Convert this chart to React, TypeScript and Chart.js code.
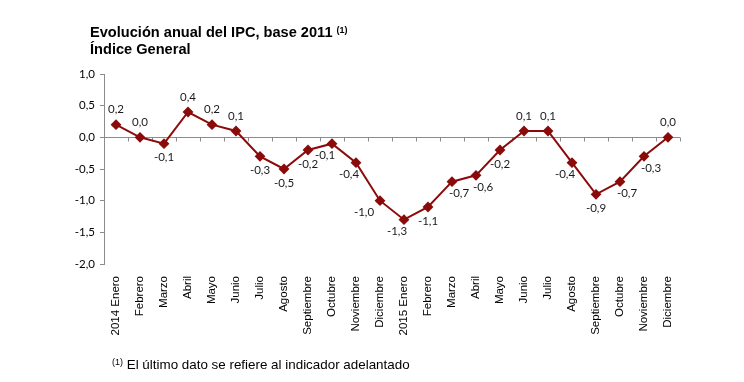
import React, { useEffect, useRef } from "react";
import { Chart, registerables } from "chart.js";

Chart.register(...registerables);

const categories = [
  "2014 Enero", "Febrero", "Marzo", "Abril", "Mayo", "Junio", "Julio", "Agosto",
  "Septiembre", "Octubre", "Noviembre", "Diciembre",
  "2015 Enero", "Febrero", "Marzo", "Abril", "Mayo", "Junio", "Julio", "Agosto",
  "Septiembre", "Octubre", "Noviembre", "Diciembre",
];

const ipcValues = [
  0.2, 0.0, -0.1, 0.4, 0.2, 0.1, -0.3, -0.5, -0.2, -0.1, -0.4, -1.0,
  -1.3, -1.1, -0.7, -0.6, -0.2, 0.1, 0.1, -0.4, -0.9, -0.7, -0.3, 0.0,
];

const labelPlacement = [
  "above", "above", "below", "above", "above", "above", "below", "below",
  "below", "belowLeft", "belowLeft", "left",
  "belowLeft", "below", "belowRight", "belowRight", "below", "above", "above", "belowLeft",
  "below", "belowRight", "belowRight", "above",
];

const yMin = -2;
const yMax = 1;
const yStep = 0.5;

const titleLine1 = "Evolución anual del IPC, base 2011";
const titleLine2 = "Índice General";
const footnote = "El último dato se refiere al indicador adelantado";

const fmt = (v: number) => v.toFixed(1).replace(".", ",");

const AXIS_COLOR = "#8c8c8c";
const LINE_COLOR = "#8b0a0a";

const placementOffsets: Record<string, [number, number]> = {
  above: [0, -15],
  below: [0, 14],
  belowLeft: [-7, 12],
  belowRight: [7, 12],
  left: [-16, 12],
};

const zeroAxisPlugin = {
  id: "zeroAxis",
  beforeDatasetsDraw(chart: any) {
    const { ctx, chartArea, scales } = chart;
    const y0 = Math.round(scales.y.getPixelForValue(0)) + 0.5;
    ctx.save();
    ctx.strokeStyle = AXIS_COLOR;
    ctx.lineWidth = 1;
    ctx.beginPath();
    ctx.moveTo(chartArea.left, y0);
    ctx.lineTo(chartArea.right, y0);
    const n = categories.length;
    const w = (chartArea.right - chartArea.left) / n;
    for (let k = 1; k <= n; k++) {
      const x = Math.round(chartArea.left + k * w) + 0.5;
      ctx.moveTo(x, y0);
      ctx.lineTo(x, y0 + 4);
    }
    ctx.stroke();
    ctx.restore();
  },
};

const dataLabelPlugin = {
  id: "dataLabels",
  afterDatasetsDraw(chart: any) {
    const { ctx } = chart;
    const meta = chart.getDatasetMeta(0);
    ctx.save();
    ctx.font = "11.5px Lato, 'Noto Sans', sans-serif";
    ctx.fillStyle = "#1a1a1a";
    ctx.textAlign = "center";
    ctx.textBaseline = "middle";
    meta.data.forEach((pt: any, i: number) => {
      const [dx, dy] = placementOffsets[labelPlacement[i]] || [0, -14];
      ctx.fillText(fmt(ipcValues[i]), pt.x + dx, pt.y + dy);
    });
    ctx.restore();
  },
};

export default function App() {
  const canvasRef = useRef<HTMLCanvasElement | null>(null);

  useEffect(() => {
    if (!canvasRef.current) return;
    const chart = new Chart(canvasRef.current, {
      type: "line",
      data: {
        labels: categories,
        datasets: [
          {
            data: ipcValues,
            borderColor: LINE_COLOR,
            backgroundColor: LINE_COLOR,
            borderWidth: 2,
            pointStyle: "rectRot",
            pointRadius: 4,
            pointBackgroundColor: LINE_COLOR,
            pointBorderColor: LINE_COLOR,
            tension: 0,
          },
        ],
      },
      options: {
        animation: false,
        responsive: false,
        maintainAspectRatio: false,
        events: [],
        layout: { padding: { left: 0, top: 74, right: 64, bottom: 0 } },
        plugins: {
          legend: { display: false },
          tooltip: { enabled: false },
          title: { display: false },
        },
        scales: {
          x: {
            type: "category",
            offset: true,
            grid: { display: false },
            border: { display: false },
            ticks: {
              maxRotation: 90,
              minRotation: 90,
              autoSkip: false,
              padding: 4,
              color: "#000",
              font: { family: "'Liberation Sans', Arial, sans-serif", size: 11.5 },
            },
            afterFit: (scale: any) => {
              scale.height = 118;
            },
          },
          y: {
            min: yMin,
            max: yMax,
            ticks: {
              stepSize: yStep,
              padding: 5,
              color: "#000",
              font: { family: "Lato, 'Noto Sans', sans-serif", size: 11.5 },
              callback: (v: any) => fmt(Number(v)),
            },
            grid: {
              drawOnChartArea: false,
              drawTicks: true,
              tickLength: 4,
              color: AXIS_COLOR,
            },
            border: { display: true, color: AXIS_COLOR, width: 1 },
            afterFit: (scale: any) => {
              scale.width = 104;
            },
          },
        },
      } as any,
      plugins: [zeroAxisPlugin, dataLabelPlugin],
    });
    return () => chart.destroy();
  }, []);

  return (
    <div
      style={{
        position: "absolute",
        left: 0,
        top: 0,
        width: 744,
        height: 382,
        background: "#fff",
        fontFamily: "'Liberation Sans', Arial, sans-serif",
      }}
    >
      <canvas
        ref={canvasRef}
        width={744}
        height={382}
        style={{ position: "absolute", left: 0, top: 0, width: 744, height: 382 }}
      />
      <div
        style={{
          position: "absolute",
          left: 90,
          top: 22,
          fontWeight: "bold",
          fontSize: 14.6,
          lineHeight: "17px",
          color: "#000",
          whiteSpace: "nowrap",
        }}
      >
        <div>
          {titleLine1}{" "}
          <sup style={{ fontSize: 9, verticalAlign: "4px" }}>(1)</sup>
        </div>
        <div>{titleLine2}</div>
      </div>
      <div
        style={{
          position: "absolute",
          left: 112,
          top: 354,
          fontSize: 13.4,
          lineHeight: "16px",
          color: "#000",
          whiteSpace: "nowrap",
        }}
      >
        <sup style={{ fontSize: 9, verticalAlign: "4px" }}>(1)</sup> {footnote}
      </div>
    </div>
  );
}
